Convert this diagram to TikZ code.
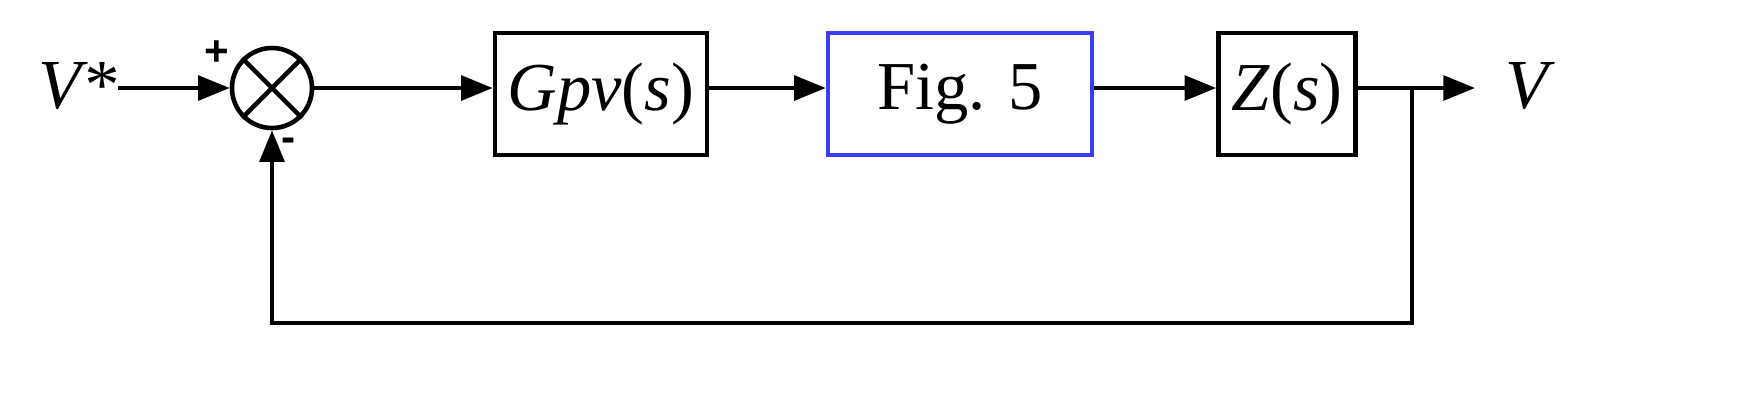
\documentclass[tikz,border=0pt]{standalone}
\usepackage{fontspec}
\setmainfont{Liberation Serif}
\setsansfont{Liberation Sans}
\usetikzlibrary{arrows.meta}
\begin{document}
\begin{tikzpicture}[x=0.01cm,y=-0.01cm,
  line width=1.2pt,
  blk/.style={draw,line width=1.3pt,minimum width=#1*0.01cm,minimum height=1.22cm,inner sep=0pt,font=\fontsize{19.5}{22}\selectfont},
  arr/.style={-{Triangle[length=9pt,width=7pt]}},
  lbl/.style={font=\fontsize{20}{23}\selectfont\itshape}]
\useasboundingbox (0,0) rectangle (1737,411);
\node[lbl] (vin) at (78,86) {V*};
\coordinate (vs) at (118,88);
\node[draw,circle,line width=1.3pt,minimum size=0.8cm,inner sep=0pt] (sum) at (272,88) {};
\draw[line width=1.3pt] (sum.45)--(sum.225) (sum.135)--(sum.315);
\node[font=\sffamily\bfseries\fontsize{12}{14}\selectfont] (plus) at (217,53) {+};
\node[font=\sffamily\bfseries\fontsize{12}{14}\selectfont] (minus) at (289,145) {-};
\node[blk=212] (g) at (601,94) {\textit{Gpv}(\textit{s})};
\node[blk=264,draw={rgb,255:red,60;green,60;blue,240}] (f) at (960,94) {Fig. 5};
\node[blk=137] (z) at (1287,94) {\textit{Z}(\textit{s})};
\node[lbl] (vout) at (1527,86) {V};
\coordinate (vo) at (1475,88);
\coordinate (br) at (1412,88);
\coordinate (c1) at (1412,323);
\coordinate (c2) at (272,323);
\draw[arr] (vs) -- (sum.west);
\draw[arr] (sum.east) -- (g.west |- sum.east);
\draw[arr] (g.east |- sum.east) -- (f.west |- sum.east);
\draw[arr] (f.east |- sum.east) -- (z.west |- sum.east);
\draw[arr] (z.east |- sum.east) -- (vo);
\draw[arr] (br) -- (c1) -- (c2) -- (sum.south);
\end{tikzpicture}
\end{document}
